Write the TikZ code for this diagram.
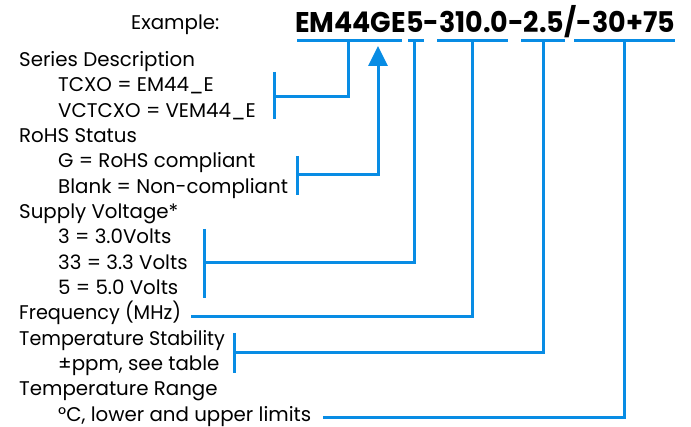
\documentclass[tikz,border=0pt]{standalone}
\usepackage{fontspec}
\setmainfont{Poppins}
\usetikzlibrary{arrows.meta}
\definecolor{lnblue}{RGB}{8,140,228}
\tikzset{
  lbl/.style={anchor=base west, inner sep=0pt, font=\fontsize{19.8}{19.8}\selectfont, text=black},
  code/.style={anchor=base west, inner sep=0pt, font=\fontsize{28.5}{28.5}\selectfont\bfseries, text=black},
  conn/.style={draw=lnblue, line width=3pt, line join=miter, line cap=butt},
}
\begin{document}
\begin{tikzpicture}[x=1pt,y=-1pt]
\useasboundingbox (0,0) rectangle (691,427);
% texts
\node[lbl] (ex) at (131,29.5) {Example:};
\node[code] (pn) at (295,33) {\scalebox{0.945}[1]{EM44GE5-310.0-2.5/-30+75}};
\node[lbl] (t1) at (19,66.7) {Series Description};
\node[lbl] (t2) at (58,92) {TCXO = EM44\_E};
\node[lbl] (t3) at (58,117.3) {VCTCXO = VEM44\_E};
\node[lbl] (t4) at (19,142.6) {RoHS Status};
\node[lbl] (t5) at (58,168) {G = RoHS compliant};
\node[lbl] (t6) at (58,193.3) {Blank = Non-compliant};
\node[lbl] (t7) at (19,218.6) {Supply Voltage*};
\node[lbl] (t8) at (58,244) {3 = 3.0Volts};
\node[lbl] (t9) at (58,269.3) {33 = 3.3 Volts};
\node[lbl] (t10) at (58,294.6) {5 = 5.0 Volts};
\node[lbl] (t11) at (19,320) {\scalebox{0.97}[1]{Frequency (MHz)}};
\node[lbl] (t12) at (19,345.3) {\scalebox{0.965}[1]{Temperature Stability}};
\node[lbl] (t13) at (58,370.6) {±ppm, see table};
\node[lbl] (t14) at (19,396) {Temperature Range};
\node[lbl] (t15) at (58,421.3) {°C, lower and upper limits};
% underline segments
\coordinate (u1a) at (297,41); \coordinate (u1b) at (402,41);
\coordinate (u2a) at (408,41); \coordinate (u2b) at (424,41);
\coordinate (u3a) at (437,41); \coordinate (u3b) at (508,41);
\coordinate (u4a) at (521,41); \coordinate (u4b) at (565,41);
\coordinate (u5a) at (574,41); \coordinate (u5b) at (675,41);
\draw[conn] (u1a) -- (u1b);
\draw[conn] (u2a) -- (u2b);
\draw[conn] (u3a) -- (u3b);
\draw[conn] (u4a) -- (u4b);
\draw[conn] (u5a) -- (u5b);
% brackets
\coordinate (bA1) at (274,72); \coordinate (bA2) at (274,119); \coordinate (bAm) at (274,97);
\coordinate (bB1) at (297,156); \coordinate (bB2) at (297,195); \coordinate (bBm) at (297,175);
\coordinate (bC1) at (204.5,229); \coordinate (bC2) at (204.5,298); \coordinate (bCm) at (204.5,263);
\coordinate (bD1) at (234.5,333); \coordinate (bD2) at (234.5,373); \coordinate (bDm) at (234.5,353);
\coordinate (fE) at (191,316.5);
\coordinate (fF) at (323,418);
\draw[conn] (bA1) -- (bA2);
\draw[conn] (bB1) -- (bB2);
\draw[conn] (bC1) -- (bC2);
\draw[conn] (bD1) -- (bD2);
% connectors
\draw[conn] (bAm) -| (348.5,41);
\draw[conn, -{Triangle[width=19pt,length=20pt]}] (bBm) -| (378,46);
\draw[conn] (bCm) -| (414,41);
\draw[conn] (fE) -| (472,41);
\draw[conn] (bDm) -| (543.5,41);
\draw[conn] (fF) -| (624,41);
\end{tikzpicture}
\end{document}
